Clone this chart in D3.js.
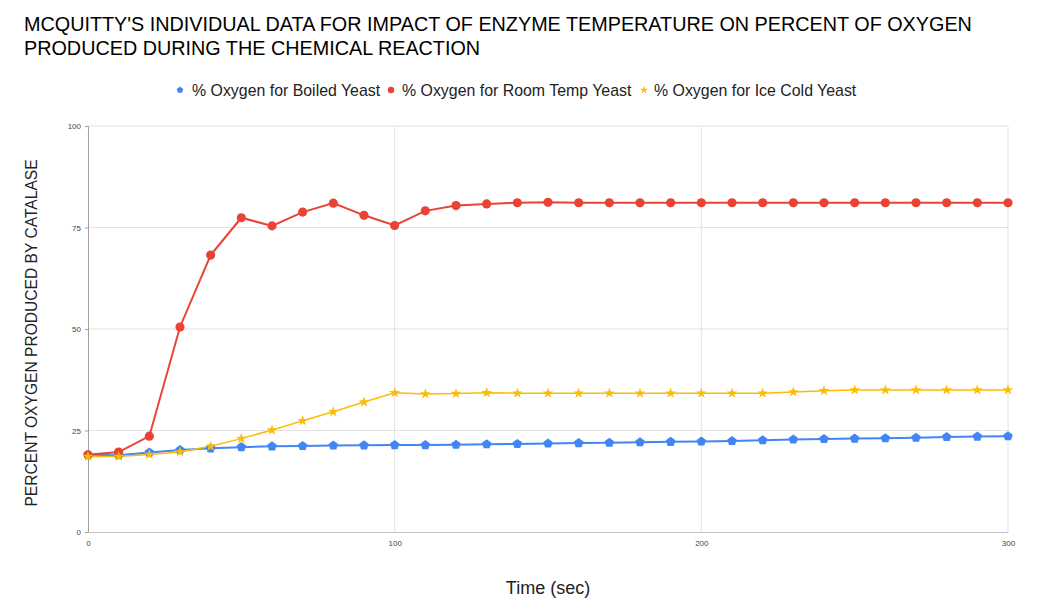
<!DOCTYPE html>
<html>
<head>
<meta charset="utf-8">
<script src="https://cdn.jsdelivr.net/npm/d3@7"></script>
<style>
  body { margin: 0; background: #fff; }
  text { font-family: "Liberation Sans", Arial, sans-serif; }
</style>
</head>
<body>
<div id="chart"></div>
<script>
// time points (sec)
const times = d3.range(0, 301, 10);

const boiled = [19.0, 18.9, 19.6, 20.2, 20.6, 20.9, 21.1, 21.2, 21.3, 21.35, 21.4,
  21.4, 21.5, 21.6, 21.7, 21.8, 21.9, 22.0, 22.1, 22.2, 22.3,
  22.4, 22.6, 22.8, 22.9, 23.0, 23.1, 23.2, 23.4, 23.5, 23.6];

const roomTemp = [19.0, 19.7, 23.6, 50.5, 68.2, 77.4, 75.4, 78.8, 81.0, 78.0, 75.5,
  79.1, 80.4, 80.8, 81.1, 81.2, 81.1, 81.1, 81.1, 81.1, 81.1,
  81.1, 81.1, 81.1, 81.1, 81.1, 81.1, 81.1, 81.1, 81.1, 81.1];

const iceCold = [18.6, 18.6, 19.1, 19.7, 21.1, 23.0, 25.1, 27.4, 29.6, 32.0, 34.3,
  34.0, 34.1, 34.3, 34.2, 34.2, 34.2, 34.2, 34.2, 34.2, 34.2,
  34.2, 34.2, 34.5, 34.8, 35.0, 35.0, 35.0, 35.0, 35.0, 35.0];

const seriesNames = ["% Oxygen for Boiled Yeast", "% Oxygen for Room Temp Yeast", "% Oxygen for Ice Cold Yeast"];
const seriesColors = ["#4285f4", "#ea4335", "#fbbc04"];
const xTicks = [0, 100, 200, 300];
const yTicks = [0, 25, 50, 75, 100];

// pentagon symbol (d3 has none)
const symbolPentagon = {
  draw(ctx, size) {
    const r = Math.sqrt(size / 2.378);
    for (let i = 0; i < 5; i++) {
      const a = -Math.PI / 2 + i * 2 * Math.PI / 5;
      const px = r * Math.cos(a), py = r * Math.sin(a);
      if (i === 0) ctx.moveTo(px, py); else ctx.lineTo(px, py);
    }
    ctx.closePath();
  }
};
const seriesShapes = [symbolPentagon, d3.symbolCircle, d3.symbolStar];

const seriesData = [boiled, roomTemp, iceCold];

const W = 1053, H = 609;
const margin = { top: 126, right: 45, bottom: 77, left: 88 };
const width = W - margin.left - margin.right;
const height = H - margin.top - margin.bottom;

const svg = d3.select("#chart").append("svg")
  .attr("width", W)
  .attr("height", H);

// title
svg.append("text")
  .attr("x", 24).attr("y", 31)
  .style("font-size", "19.8px").style("fill", "#000")
  .text("MCQUITTY'S INDIVIDUAL DATA FOR IMPACT OF ENZYME TEMPERATURE ON PERCENT OF OXYGEN");
svg.append("text")
  .attr("x", 24).attr("y", 55)
  .style("font-size", "19.8px").style("fill", "#000")
  .text("PRODUCED DURING THE CHEMICAL REACTION");

const g = svg.append("g")
  .attr("transform", `translate(${margin.left},${margin.top})`);

const x = d3.scaleLinear().domain([0, 300]).range([0, width]);
const y = d3.scaleLinear().domain([0, 100]).range([height, 0]);

// gridlines
g.append("g")
  .selectAll("line.h").data(yTicks.filter(d => d > 0))
  .enter().append("line")
  .attr("x1", 0).attr("x2", width)
  .attr("y1", d => y(d)).attr("y2", d => y(d))
  .style("stroke", "#e2e2e2").style("stroke-width", 1);

g.append("g")
  .selectAll("line.v").data(xTicks.filter(d => d > 0))
  .enter().append("line")
  .attr("x1", d => x(d)).attr("x2", d => x(d))
  .attr("y1", 0).attr("y2", height)
  .style("stroke", "#e2e2e2").style("stroke-width", 1);

// axes
const yAxis = g.append("g")
  .call(d3.axisLeft(y).tickValues(yTicks).tickSize(3).tickPadding(4));
yAxis.select(".domain").style("stroke", "#a0a0a0");
yAxis.selectAll(".tick line").style("stroke", "#a0a0a0");
yAxis.selectAll("text").style("font-size", "8px").style("fill", "#444")
  .style("font-family", "Liberation Sans, Arial, sans-serif");

const xAxis = g.append("g")
  .attr("transform", `translate(0,${height})`)
  .call(d3.axisBottom(x).tickValues(xTicks).tickSize(0).tickPadding(8));
xAxis.select(".domain").style("stroke", "#c4c4c4");
xAxis.selectAll("text").style("font-size", "8px").style("fill", "#444")
  .style("font-family", "Liberation Sans, Arial, sans-serif");

// axis titles
svg.append("text")
  .attr("transform", `translate(37,${margin.top + height / 2 + 4}) rotate(-90)`)
  .attr("text-anchor", "middle")
  .style("font-size", "15.6px").style("fill", "#222")
  .text("PERCENT OXYGEN PRODUCED BY CATALASE");

svg.append("text")
  .attr("x", margin.left + width / 2).attr("y", 594)
  .attr("text-anchor", "middle")
  .style("font-size", "18px").style("fill", "#222")
  .text("Time (sec)");

// lines + markers
const line = d3.line()
  .x((d, i) => x(times[i]))
  .y(d => y(d));

const markerSizes = [60, 66, 36];
const lineWidths = [2, 2, 1.5];

seriesData.forEach((vals, k) => {
  g.append("path")
    .datum(vals)
    .attr("d", line)
    .style("fill", "none")
    .style("stroke", seriesColors[k])
    .style("stroke-width", lineWidths[k]);
});

seriesData.forEach((vals, k) => {
  g.append("g").selectAll("path").data(vals)
    .enter().append("path")
    .attr("transform", (d, i) => `translate(${x(times[i])},${y(d)})`)
    .attr("d", d3.symbol().type(seriesShapes[k]).size(markerSizes[k]))
    .style("fill", seriesColors[k]);
});

// legend
const legendItems = [
  { x: 180, tx: 192, name: seriesNames[0] },
  { x: 391, tx: 402, name: seriesNames[1] },
  { x: 644, tx: 654, name: seriesNames[2] }
];
const legend = svg.append("g");
legendItems.forEach((item, k) => {
  legend.append("path")
    .attr("transform", `translate(${item.x},90)`)
    .attr("d", d3.symbol().type(seriesShapes[k]).size([28, 32, 20][k]))
    .style("fill", seriesColors[k]);
  legend.append("text")
    .attr("x", item.tx).attr("y", 95.5)
    .style("font-size", "15.9px").style("fill", "#222")
    .text(item.name);
});
</script>
</body>
</html>
